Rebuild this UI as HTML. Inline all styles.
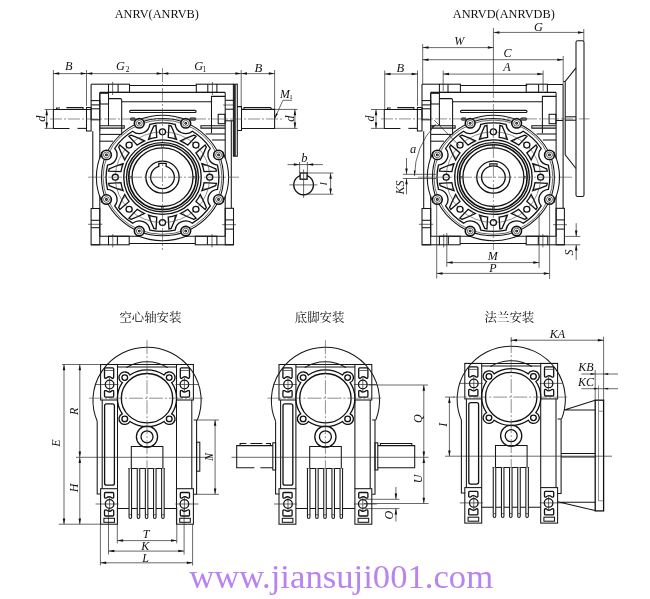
<!DOCTYPE html>
<html><head><meta charset="utf-8"><title>ANRV</title>
<style>
html,body{margin:0;padding:0;background:#fff}
svg{display:block;will-change:transform}
path,circle,rect{fill:none}
.k{stroke:#111;stroke-width:1.3}
.k2{stroke:#111;stroke-width:1.6}
.ks{stroke:#111;stroke-width:0.8;fill:#777}
.kb{stroke:#111;stroke-width:1.6;fill:#fff}
.kw{stroke:#111;stroke-width:1.3;fill:#fff}
.mw{stroke:#161616;stroke-width:1.05;fill:#fff}
.m{stroke:#161616;stroke-width:1.05}
.t{stroke:#2a2a2a;stroke-width:0.7}
.t2{stroke:#333;stroke-width:0.55}
.ah{fill:#111;stroke:none}
.c{stroke:#444;stroke-width:0.6}
text{font-family:"Liberation Serif","Noto Serif CJK SC",serif;fill:#111}
</style></head><body>
<svg width="650" height="599" viewBox="0 0 650 599">
<filter id="n" filterUnits="userSpaceOnUse" x="0" y="0" width="650" height="599"><feOffset dx="0" dy="0"/></filter>
<g filter="url(#n)">
<rect x="0" y="0" width="650" height="599" style="fill:#fff"/>
<g transform="translate(162.5 177.2)">
<path class="m" d="M-71.4 -93L-54 -93"/>
<path class="m" d="M-33 -91.7L33.8 -91.7"/>
<path class="m" d="M54.4 -93L70.9 -93"/>
<path class="m" d="M-71.4 -93L-71.4 -76.6"/>
<path class="m" d="M-69.7 -46L-69.7 31.3"/>
<path class="m" d="M-71.4 67.6L-54 67.6"/>
<path class="m" d="M-33.3 66.2L32.8 66.2"/>
<path class="m" d="M54.4 67.6L71 67.6"/>
<path class="m" d="M-62.7 -84.8L62.7 -84.8"/>
<path class="m" d="M-62.7 -84.8L-62.7 -18.5"/>
<path class="m" d="M-62.7 18.5L-62.7 59"/>
<path class="m" d="M-62.7 59L-22.5 59"/>
<path class="m" d="M22.5 59L62.7 59"/>
<rect class="m" x="-54" y="-93" width="21" height="8.2"/>
<path class="m" d="M-44.4 -93L-44.4 -84.8"/>
<path class="t" d="M-49.9 -95.2L-49.9 -82.2"/>
<rect class="m" x="33.8" y="-93" width="20.6" height="8.2"/>
<path class="m" d="M45.3 -93L45.3 -84.8"/>
<path class="t" d="M49.9 -95.2L49.9 -82.2"/>
<rect class="m" x="-54" y="59" width="20.7" height="8.6"/>
<path class="m" d="M-45.1 59L-45.1 67.6"/>
<path class="t" d="M-49.7 56.8L-49.7 70.2"/>
<rect class="m" x="32.8" y="59" width="21.6" height="8.6"/>
<path class="m" d="M44.9 59L44.9 67.6"/>
<path class="t" d="M49.5 56.8L49.5 70.2"/>
<rect class="m" x="-71.4" y="31.3" width="8.7" height="36.3"/>
<path class="m" d="M-71.4 43.1L-62.7 43.1"/>
<path class="m" d="M-71.4 50.5L-62.7 50.5"/>
<path class="t" d="M-74.4 47.1L-60.2 47.1"/>
<rect class="m" x="62.7" y="31.1" width="8.3" height="36.5"/>
<path class="m" d="M62.7 42.7L71 42.7"/>
<path class="m" d="M62.7 51.9L71 51.9"/>
<path class="t" d="M59.7 47.5L73.5 47.5"/>
<rect class="m" x="-62.7" y="-83.9" width="8.7" height="10.7"/>
<path class="m" d="M-54.0 -78.6H-42.3Q-40.8 -78.6 -40.8 -77.1V-42.8"/>
<path class="m" d="M-54 -73.2L-54 -51.4"/>
<path class="m" d="M-40.8 -75.4L49 -75.4"/>
<rect class="m" x="-71.4" y="-76.6" width="8.7" height="19.2"/>
<path class="m" d="M-71.4 -72.3L-62.7 -72.3"/>
<path class="m" d="M-71.4 -68.4L-62.7 -68.4"/>
<path class="t" d="M-62.7 -57.4L-62.7 -46"/>
<rect class="m" x="-32.9" y="-66.8" width="66.5" height="2.2" rx="1"/>
<rect class="ks" x="-32" y="-59.3" width="4.7" height="2.3" rx="0.6"/>
<rect class="ks" x="27.3" y="-59.3" width="5.9" height="2.3" rx="0.6"/>
<path class="m" d="M-62.7 -51.4H-38.2V-49.1H-62.7"/>
<path class="m" d="M-62.7 -42.8L-40.8 -42.8"/>
<path class="m" d="M-62.7 -36L-49.5 -36"/>
<path class="m" d="M62.7 -51.4H38.4V-49.1H62.7"/>
<path class="m" d="M43.2 -43.2L62.7 -43.2"/>
<path class="m" d="M49.4 -37.2L62.7 -37.2"/>
<path class="m" d="M49 -44V-80.8H62.7"/>
<path class="m" d="M62.7 -84.8L62.7 -18.5"/>
<path class="m" d="M62.7 18.5L62.7 59"/>
<rect class="m" x="55.7" y="-62.9" width="6.8" height="9.4"/>
<path class="m" d="M68.8 -56.4L68.8 31.1"/>
<rect class="m" x="70.9" y="-93" width="3.9" height="72"/>
<path class="k2" d="M72.4 -93L72.4 -21"/>
<path class="m" d="M62.7 -76.9L70.9 -76.9"/>
<path class="t" d="M60.7 -72.2L70.9 -72.2"/>
<path class="m" d="M62.7 -68L70.9 -68"/>
<path class="m" d="M62.7 -56.4L70.9 -56.4"/>
<path class="m" d="M-71.4 -67.7H-109.1V-48.8H-93"/>
<path class="m" d="M-85 -48.8H-76"/>
<path class="m" d="M-76 -69.7H-71.4V-46.2H-76Z"/>
<path class="m" d="M-105.9 -67.7V-69.2H-102.6M-96.1 -69.6H-79.5V-67.7"/>
<path class="m" d="M74.8 -70.6H79V-46.7H74.8"/>
<path class="m" d="M79 -67.8H112.1V-48.8H79"/>
<path class="m" d="M81.5 -67.8V-69.7H108.2L109 -67.8"/>
<g transform="scale(1.02 0.98)">
<path class="m" d="M59.24 25.76A64.6 64.6 0 0 0 59.24 -25.76"/>
<path class="m" d="M-59.24 -25.76A64.6 64.6 0 0 0 -59.24 25.76"/>
<path class="m" d="M-25.76 59.24A64.6 64.6 0 0 0 25.76 59.24"/>
<path class="m" d="M24.11 -58.2A63 63 0 0 0 -24.11 -58.2"/>
<circle class="m" cx="0" cy="0" r="59.8"/>
<circle class="t" cx="0" cy="0" r="58.3"/>
<path class="k" d="M53.89 -12.43A10.4 10.4 0 0 1 46.89 -29.32A55.3 55.3 0 0 0 29.32 -46.89A10.4 10.4 0 0 1 12.43 -53.89A55.3 55.3 0 0 0 -12.43 -53.89A10.4 10.4 0 0 1 -29.32 -46.89A55.3 55.3 0 0 0 -46.89 -29.32A10.4 10.4 0 0 1 -53.89 -12.43A55.3 55.3 0 0 0 -53.89 12.43A10.4 10.4 0 0 1 -46.89 29.32A55.3 55.3 0 0 0 -29.32 46.89A10.4 10.4 0 0 1 -12.43 53.89A55.3 55.3 0 0 0 12.43 53.89A10.4 10.4 0 0 1 29.32 46.89A55.3 55.3 0 0 0 46.89 29.32A10.4 10.4 0 0 1 53.89 12.43A55.3 55.3 0 0 0 53.89 -12.43Z"/>
<path class="k" d="M52.83 -6.3L40.71 -5.65A41 41 0 0 0 38.62 -13.75Q45.67 -11.46 52.2 -8.55Z"/>
<path class="t2" d="M39.5 -11.7L44.92 -12.04"/>
<path class="k" d="M52.83 6.3L40.71 5.65A41 41 0 0 1 38.62 13.75Q45.67 11.46 52.2 8.55Z"/>
<path class="t2" d="M39.5 11.7L44.92 12.04"/>
<path class="k" d="M32.9 -41.81L24.79 -32.78A41 41 0 0 0 17.59 -37.04Q24.19 -40.4 30.87 -42.96Z"/>
<path class="t2" d="M19.66 -36.21L23.25 -40.27"/>
<path class="k" d="M41.81 -32.9L32.78 -24.79A41 41 0 0 1 37.04 -17.59Q40.4 -24.19 42.96 -30.87Z"/>
<path class="t2" d="M36.21 -19.66L40.27 -23.25"/>
<path class="k" d="M-6.3 -52.83L-5.65 -40.71A41 41 0 0 0 -13.75 -38.62Q-11.46 -45.67 -8.55 -52.2Z"/>
<path class="t2" d="M-11.7 -39.5L-12.04 -44.92"/>
<path class="k" d="M6.3 -52.83L5.65 -40.71A41 41 0 0 1 13.75 -38.62Q11.46 -45.67 8.55 -52.2Z"/>
<path class="t2" d="M11.7 -39.5L12.04 -44.92"/>
<path class="k" d="M-41.81 -32.9L-32.78 -24.79A41 41 0 0 0 -37.04 -17.59Q-40.4 -24.19 -42.96 -30.87Z"/>
<path class="t2" d="M-36.21 -19.66L-40.27 -23.25"/>
<path class="k" d="M-32.9 -41.81L-24.79 -32.78A41 41 0 0 1 -17.59 -37.04Q-24.19 -40.4 -30.87 -42.96Z"/>
<path class="t2" d="M-19.66 -36.21L-23.25 -40.27"/>
<path class="k" d="M-52.83 6.3L-40.71 5.65A41 41 0 0 0 -38.62 13.75Q-45.67 11.46 -52.2 8.55Z"/>
<path class="t2" d="M-39.5 11.7L-44.92 12.04"/>
<path class="k" d="M-52.83 -6.3L-40.71 -5.65A41 41 0 0 1 -38.62 -13.75Q-45.67 -11.46 -52.2 -8.55Z"/>
<path class="t2" d="M-39.5 -11.7L-44.92 -12.04"/>
<path class="k" d="M-32.9 41.81L-24.79 32.78A41 41 0 0 0 -17.59 37.04Q-24.19 40.4 -30.87 42.96Z"/>
<path class="t2" d="M-19.66 36.21L-23.25 40.27"/>
<path class="k" d="M-41.81 32.9L-32.78 24.79A41 41 0 0 1 -37.04 17.59Q-40.4 24.19 -42.96 30.87Z"/>
<path class="t2" d="M-36.21 19.66L-40.27 23.25"/>
<path class="k" d="M6.3 52.83L5.65 40.71A41 41 0 0 0 13.75 38.62Q11.46 45.67 8.55 52.2Z"/>
<path class="t2" d="M11.7 39.5L12.04 44.92"/>
<path class="k" d="M-6.3 52.83L-5.65 40.71A41 41 0 0 1 -13.75 38.62Q-11.46 45.67 -8.55 52.2Z"/>
<path class="t2" d="M-11.7 39.5L-12.04 44.92"/>
<path class="k" d="M41.81 32.9L32.78 24.79A41 41 0 0 0 37.04 17.59Q40.4 24.19 42.96 30.87Z"/>
<path class="t2" d="M36.21 19.66L40.27 23.25"/>
<path class="k" d="M32.9 41.81L24.79 32.78A41 41 0 0 1 17.59 37.04Q24.19 40.4 30.87 42.96Z"/>
<path class="t2" d="M19.66 36.21L23.25 40.27"/>
<circle class="t2" cx="0" cy="0" r="46.3"/>
<circle class="kw" cx="46.3" cy="0" r="3"/>
<circle class="kw" cx="32.74" cy="-32.74" r="3"/>
<circle class="kw" cx="0" cy="-46.3" r="3"/>
<circle class="kw" cx="-32.74" cy="-32.74" r="3"/>
<circle class="kw" cx="-46.3" cy="0" r="3"/>
<circle class="kw" cx="-32.74" cy="32.74" r="3"/>
<circle class="kw" cx="0" cy="46.3" r="3"/>
<circle class="kw" cx="32.74" cy="32.74" r="3"/>
<circle class="kb" cx="54.97" cy="-22.77" r="4.8"/>
<circle class="t" cx="54.97" cy="-22.77" r="2.9"/>
<circle class="m" cx="54.97" cy="-22.77" r="0.9"/>
<circle class="kb" cx="22.77" cy="-54.97" r="4.8"/>
<circle class="t" cx="22.77" cy="-54.97" r="2.9"/>
<circle class="m" cx="22.77" cy="-54.97" r="0.9"/>
<circle class="kb" cx="-22.77" cy="-54.97" r="4.8"/>
<circle class="t" cx="-22.77" cy="-54.97" r="2.9"/>
<circle class="m" cx="-22.77" cy="-54.97" r="0.9"/>
<circle class="kb" cx="-54.97" cy="-22.77" r="4.8"/>
<circle class="t" cx="-54.97" cy="-22.77" r="2.9"/>
<circle class="m" cx="-54.97" cy="-22.77" r="0.9"/>
<circle class="kb" cx="-54.97" cy="22.77" r="4.8"/>
<circle class="t" cx="-54.97" cy="22.77" r="2.9"/>
<circle class="m" cx="-54.97" cy="22.77" r="0.9"/>
<circle class="kb" cx="-22.77" cy="54.97" r="4.8"/>
<circle class="t" cx="-22.77" cy="54.97" r="2.9"/>
<circle class="m" cx="-22.77" cy="54.97" r="0.9"/>
<circle class="kb" cx="22.77" cy="54.97" r="4.8"/>
<circle class="t" cx="22.77" cy="54.97" r="2.9"/>
<circle class="m" cx="22.77" cy="54.97" r="0.9"/>
<circle class="kb" cx="54.97" cy="22.77" r="4.8"/>
<circle class="t" cx="54.97" cy="22.77" r="2.9"/>
<circle class="m" cx="54.97" cy="22.77" r="0.9"/>
<circle class="k" cx="0" cy="0" r="38"/>
<circle class="k" cx="0" cy="0" r="35.3"/>
<circle class="k2" cx="0" cy="0" r="33.1"/>
<circle class="k" cx="0" cy="0" r="29.9"/>
<rect class="t2" x="30.6" y="-0.9" width="1.8" height="1.8"/>
<rect class="t2" x="-0.9" y="-32.4" width="1.8" height="1.8"/>
<rect class="t2" x="-32.4" y="-0.9" width="1.8" height="1.8"/>
<rect class="t2" x="-0.9" y="30.6" width="1.8" height="1.8"/>
<circle class="k" cx="0" cy="0" r="16.3"/>
<path class="k" d="M3.6 -11.03A11.6 11.6 0 1 1 -3.6 -11.03L-3.6 -14.0L3.6 -14.0Z"/>
</g>
</g>
<path class="c" d="M162.5 68L162.5 250" stroke-dasharray="14 2 2 2"/>
<path class="c" d="M88 177.2L239 177.2" stroke-dasharray="14 2 2 2"/>
<path class="c" d="M50 119L283.5 119" stroke-dasharray="12 2 2 2"/>
<path class="t" d="M53.4 70L53.4 109"/>
<path class="t" d="M86.5 70L86.5 106"/>
<path class="t" d="M241.2 70L241.2 106"/>
<path class="t" d="M274.6 70L274.6 109"/>
<path class="t" d="M53.4 73.6L86.5 73.6"/>
<path class="ah" d="M53.4 73.6L59.2 72.35L59.2 74.85Z"/>
<path class="ah" d="M86.5 73.6L80.7 74.85L80.7 72.35Z"/>
<path class="t" d="M86.5 73.6L162.5 73.6"/>
<path class="ah" d="M86.5 73.6L92.3 72.35L92.3 74.85Z"/>
<path class="ah" d="M162.5 73.6L156.7 74.85L156.7 72.35Z"/>
<path class="t" d="M162.5 73.6L241.2 73.6"/>
<path class="ah" d="M162.5 73.6L168.3 72.35L168.3 74.85Z"/>
<path class="ah" d="M241.2 73.6L235.4 74.85L235.4 72.35Z"/>
<path class="t" d="M241.2 73.6L274.6 73.6"/>
<path class="ah" d="M241.2 73.6L247 72.35L247 74.85Z"/>
<path class="ah" d="M274.6 73.6L268.8 74.85L268.8 72.35Z"/>
<text x="68.8" y="70.3" font-size="12.3" font-style="italic" text-anchor="middle">B</text>
<text x="120.5" y="69.8" font-size="12.3" font-style="italic" text-anchor="middle">G</text>
<text x="127.6" y="72.3" font-size="7.5" text-anchor="middle">2</text>
<text x="198.6" y="69.5" font-size="12.3" font-style="italic" text-anchor="middle">G</text>
<text x="204.4" y="71.5" font-size="7.5" text-anchor="middle">1</text>
<text x="258.4" y="71.5" font-size="12.8" font-style="italic" text-anchor="middle">B</text>
<path class="t" d="M44.6 109.5L53.4 109.5"/>
<path class="t" d="M44.6 128.4L53.4 128.4"/>
<path class="t" d="M46.7 109.5L46.7 128.4"/>
<path class="ah" d="M46.7 109.5L47.95 115.3L45.45 115.3Z"/>
<path class="ah" d="M46.7 128.4L45.45 122.6L47.95 122.6Z"/>
<text x="45.4" y="118.6" font-size="12.3" font-style="italic" text-anchor="middle" transform="rotate(-90 45.4 118.6)">d</text>
<path class="t" d="M274.6 109.4L297.5 109.4"/>
<path class="t" d="M274.6 128.4L297.5 128.4"/>
<path class="t" d="M294.9 109.4L294.9 128.4"/>
<path class="ah" d="M294.9 109.4L296.15 115.2L293.65 115.2Z"/>
<path class="ah" d="M294.9 128.4L293.65 122.6L296.15 122.6Z"/>
<text x="293.6" y="118.6" font-size="12.3" font-style="italic" text-anchor="middle" transform="rotate(-90 293.6 118.6)">d</text>
<path class="t" d="M292 100.3H282.9L274.9 118.2"/>
<path class="ah" d="M274.9 118.2L276.02 113.23L277.85 114.04Z"/>
<text x="284.8" y="98.4" font-size="11.8" font-style="italic" text-anchor="middle">M</text>
<text x="290.9" y="99.2" font-size="7" text-anchor="middle">1</text>
<path class="k" d="M307.1 175.69A9.85 9.85 0 1 1 300.1 175.69"/>
<rect class="k" x="300.1" y="173" width="7" height="6.2"/>
<path class="t" d="M289.4 184.9L317.4 184.9"/>
<path class="t" d="M303.6 169.5L303.6 197.8"/>
<path class="t" d="M299.6 162L299.6 173"/>
<path class="t" d="M307.4 162L307.4 173"/>
<path class="t" d="M287.5 164.6L322.9 164.6"/>
<path class="ah" d="M299.6 164.6L293.8 165.85L293.8 163.35Z"/>
<path class="ah" d="M307.4 164.6L313.2 163.35L313.2 165.85Z"/>
<path class="t" d="M307 173L333.4 173"/>
<path class="t" d="M305.7 194.2L333.4 194.2"/>
<path class="t" d="M330.6 173L330.6 194.2"/>
<path class="ah" d="M330.6 173L331.85 178.8L329.35 178.8Z"/>
<path class="ah" d="M330.6 194.2L329.35 188.4L331.85 188.4Z"/>
<text x="304.3" y="162" font-size="12.5" font-style="italic" text-anchor="middle">b</text>
<text x="327.3" y="183.8" font-size="11" font-style="italic" text-anchor="middle" transform="rotate(-90 327.3 183.8)">l</text>
<text x="156.8" y="18.1" font-size="12.3" text-anchor="middle">ANRV(ANRVB)</text>
<g transform="translate(493.4 177.2)">
<path class="m" d="M-71.4 -93L-54 -93"/>
<path class="m" d="M-33 -91.7L33.8 -91.7"/>
<path class="m" d="M54.2 -92.7L69.7 -92.7"/>
<path class="m" d="M-71.4 -93L-71.4 -76.6"/>
<path class="m" d="M-69.7 -46L-69.7 31.3"/>
<path class="m" d="M-71.4 67.6L-54 67.6"/>
<path class="m" d="M-33.3 66.2L32.8 66.2"/>
<path class="m" d="M54.4 67.6L71 67.6"/>
<path class="m" d="M-62.7 -84.8L62.7 -84.8"/>
<path class="m" d="M-62.7 -84.8L-62.7 -18.5"/>
<path class="m" d="M-62.7 18.5L-62.7 59"/>
<path class="m" d="M-62.7 59L-22.5 59"/>
<path class="m" d="M22.5 59L62.7 59"/>
<rect class="m" x="-54" y="-93" width="21" height="8.2"/>
<path class="m" d="M-45.4 -93L-45.4 -84.8"/>
<rect class="m" x="32.8" y="-93" width="21.2" height="8.2"/>
<path class="m" d="M45.2 -93L45.2 -84.8"/>
<rect class="m" x="-54" y="59" width="20.7" height="8.6"/>
<path class="m" d="M-45.1 59L-45.1 67.6"/>
<path class="t" d="M-49.7 56.8L-49.7 70.2"/>
<rect class="m" x="32.8" y="59" width="21.6" height="8.6"/>
<path class="m" d="M44.9 59L44.9 67.6"/>
<path class="t" d="M49.5 56.8L49.5 70.2"/>
<rect class="m" x="-71.4" y="31.3" width="8.7" height="36.3"/>
<path class="m" d="M-71.4 43.1L-62.7 43.1"/>
<path class="m" d="M-71.4 50.5L-62.7 50.5"/>
<path class="t" d="M-74.4 47.1L-60.2 47.1"/>
<rect class="m" x="62.7" y="31.1" width="8.3" height="36.5"/>
<path class="m" d="M62.7 42.7L71 42.7"/>
<path class="m" d="M62.7 51.9L71 51.9"/>
<path class="t" d="M59.7 47.5L73.5 47.5"/>
<rect class="m" x="-62.7" y="-83.9" width="8.7" height="10.7"/>
<path class="m" d="M-54.0 -78.6H-42.3Q-40.8 -78.6 -40.8 -77.1V-42.8"/>
<path class="m" d="M-54 -73.2L-54 -51.4"/>
<path class="m" d="M-40.8 -75.4L49 -75.4"/>
<rect class="m" x="-71.4" y="-76.6" width="8.7" height="19.2"/>
<path class="m" d="M-71.4 -72.3L-62.7 -72.3"/>
<path class="m" d="M-71.4 -68.4L-62.7 -68.4"/>
<path class="t" d="M-62.7 -57.4L-62.7 -46"/>
<rect class="m" x="-32.9" y="-66.8" width="66.5" height="2.2" rx="1"/>
<rect class="ks" x="-32" y="-59.3" width="4.7" height="2.3" rx="0.6"/>
<rect class="ks" x="27.3" y="-59.3" width="5.9" height="2.3" rx="0.6"/>
<path class="m" d="M-62.7 -51.4H-38.2V-49.1H-62.7"/>
<path class="m" d="M-62.7 -42.8L-40.8 -42.8"/>
<path class="m" d="M-62.7 -36L-49.5 -36"/>
<path class="m" d="M62.7 -51.4H38.4V-49.1H62.7"/>
<path class="m" d="M43.2 -43.2L62.7 -43.2"/>
<path class="m" d="M49.4 -37.2L62.7 -37.2"/>
<path class="m" d="M49 -44V-80.8H62.7"/>
<path class="m" d="M62.7 -84.8L62.7 -18.5"/>
<path class="m" d="M62.7 18.5L62.7 59"/>
<rect class="m" x="55.7" y="-62.9" width="6.8" height="9.4"/>
<path class="m" d="M69.7 -92.7L69.7 31.1"/>
<path class="m" d="M62.7 -56.7L69.7 -56.7"/>
<path class="m" d="M-71.4 -67.7H-109.1V-48.8H-93"/>
<path class="m" d="M-85 -48.8H-76"/>
<path class="m" d="M-76 -69.7H-71.4V-46.2H-76Z"/>
<path class="m" d="M-105.9 -67.7V-69.2H-102.6M-96.1 -69.6H-79.5V-67.7"/>
<g transform="scale(1.02 0.98)">
<path class="m" d="M59.24 25.76A64.6 64.6 0 0 0 59.24 -25.76"/>
<path class="m" d="M-59.24 -25.76A64.6 64.6 0 0 0 -59.24 25.76"/>
<path class="m" d="M-25.76 59.24A64.6 64.6 0 0 0 25.76 59.24"/>
<path class="m" d="M24.11 -58.2A63 63 0 0 0 -24.11 -58.2"/>
<circle class="m" cx="0" cy="0" r="59.8"/>
<circle class="t" cx="0" cy="0" r="58.3"/>
<path class="k" d="M53.89 -12.43A10.4 10.4 0 0 1 46.89 -29.32A55.3 55.3 0 0 0 29.32 -46.89A10.4 10.4 0 0 1 12.43 -53.89A55.3 55.3 0 0 0 -12.43 -53.89A10.4 10.4 0 0 1 -29.32 -46.89A55.3 55.3 0 0 0 -46.89 -29.32A10.4 10.4 0 0 1 -53.89 -12.43A55.3 55.3 0 0 0 -53.89 12.43A10.4 10.4 0 0 1 -46.89 29.32A55.3 55.3 0 0 0 -29.32 46.89A10.4 10.4 0 0 1 -12.43 53.89A55.3 55.3 0 0 0 12.43 53.89A10.4 10.4 0 0 1 29.32 46.89A55.3 55.3 0 0 0 46.89 29.32A10.4 10.4 0 0 1 53.89 12.43A55.3 55.3 0 0 0 53.89 -12.43Z"/>
<path class="k" d="M52.83 -6.3L40.71 -5.65A41 41 0 0 0 38.62 -13.75Q45.67 -11.46 52.2 -8.55Z"/>
<path class="t2" d="M39.5 -11.7L44.92 -12.04"/>
<path class="k" d="M52.83 6.3L40.71 5.65A41 41 0 0 1 38.62 13.75Q45.67 11.46 52.2 8.55Z"/>
<path class="t2" d="M39.5 11.7L44.92 12.04"/>
<path class="k" d="M32.9 -41.81L24.79 -32.78A41 41 0 0 0 17.59 -37.04Q24.19 -40.4 30.87 -42.96Z"/>
<path class="t2" d="M19.66 -36.21L23.25 -40.27"/>
<path class="k" d="M41.81 -32.9L32.78 -24.79A41 41 0 0 1 37.04 -17.59Q40.4 -24.19 42.96 -30.87Z"/>
<path class="t2" d="M36.21 -19.66L40.27 -23.25"/>
<path class="k" d="M-6.3 -52.83L-5.65 -40.71A41 41 0 0 0 -13.75 -38.62Q-11.46 -45.67 -8.55 -52.2Z"/>
<path class="t2" d="M-11.7 -39.5L-12.04 -44.92"/>
<path class="k" d="M6.3 -52.83L5.65 -40.71A41 41 0 0 1 13.75 -38.62Q11.46 -45.67 8.55 -52.2Z"/>
<path class="t2" d="M11.7 -39.5L12.04 -44.92"/>
<path class="k" d="M-41.81 -32.9L-32.78 -24.79A41 41 0 0 0 -37.04 -17.59Q-40.4 -24.19 -42.96 -30.87Z"/>
<path class="t2" d="M-36.21 -19.66L-40.27 -23.25"/>
<path class="k" d="M-32.9 -41.81L-24.79 -32.78A41 41 0 0 1 -17.59 -37.04Q-24.19 -40.4 -30.87 -42.96Z"/>
<path class="t2" d="M-19.66 -36.21L-23.25 -40.27"/>
<path class="k" d="M-52.83 6.3L-40.71 5.65A41 41 0 0 0 -38.62 13.75Q-45.67 11.46 -52.2 8.55Z"/>
<path class="t2" d="M-39.5 11.7L-44.92 12.04"/>
<path class="k" d="M-52.83 -6.3L-40.71 -5.65A41 41 0 0 1 -38.62 -13.75Q-45.67 -11.46 -52.2 -8.55Z"/>
<path class="t2" d="M-39.5 -11.7L-44.92 -12.04"/>
<path class="k" d="M-32.9 41.81L-24.79 32.78A41 41 0 0 0 -17.59 37.04Q-24.19 40.4 -30.87 42.96Z"/>
<path class="t2" d="M-19.66 36.21L-23.25 40.27"/>
<path class="k" d="M-41.81 32.9L-32.78 24.79A41 41 0 0 1 -37.04 17.59Q-40.4 24.19 -42.96 30.87Z"/>
<path class="t2" d="M-36.21 19.66L-40.27 23.25"/>
<path class="k" d="M6.3 52.83L5.65 40.71A41 41 0 0 0 13.75 38.62Q11.46 45.67 8.55 52.2Z"/>
<path class="t2" d="M11.7 39.5L12.04 44.92"/>
<path class="k" d="M-6.3 52.83L-5.65 40.71A41 41 0 0 1 -13.75 38.62Q-11.46 45.67 -8.55 52.2Z"/>
<path class="t2" d="M-11.7 39.5L-12.04 44.92"/>
<path class="k" d="M41.81 32.9L32.78 24.79A41 41 0 0 0 37.04 17.59Q40.4 24.19 42.96 30.87Z"/>
<path class="t2" d="M36.21 19.66L40.27 23.25"/>
<path class="k" d="M32.9 41.81L24.79 32.78A41 41 0 0 1 17.59 37.04Q24.19 40.4 30.87 42.96Z"/>
<path class="t2" d="M19.66 36.21L23.25 40.27"/>
<circle class="t2" cx="0" cy="0" r="46.3"/>
<circle class="kw" cx="46.3" cy="0" r="3"/>
<circle class="kw" cx="32.74" cy="-32.74" r="3"/>
<circle class="kw" cx="0" cy="-46.3" r="3"/>
<circle class="kw" cx="-32.74" cy="-32.74" r="3"/>
<circle class="kw" cx="-46.3" cy="0" r="3"/>
<circle class="kw" cx="-32.74" cy="32.74" r="3"/>
<circle class="kw" cx="0" cy="46.3" r="3"/>
<circle class="kw" cx="32.74" cy="32.74" r="3"/>
<circle class="kb" cx="54.97" cy="-22.77" r="4.8"/>
<circle class="t" cx="54.97" cy="-22.77" r="2.9"/>
<circle class="m" cx="54.97" cy="-22.77" r="0.9"/>
<circle class="kb" cx="22.77" cy="-54.97" r="4.8"/>
<circle class="t" cx="22.77" cy="-54.97" r="2.9"/>
<circle class="m" cx="22.77" cy="-54.97" r="0.9"/>
<circle class="kb" cx="-22.77" cy="-54.97" r="4.8"/>
<circle class="t" cx="-22.77" cy="-54.97" r="2.9"/>
<circle class="m" cx="-22.77" cy="-54.97" r="0.9"/>
<circle class="kb" cx="-54.97" cy="-22.77" r="4.8"/>
<circle class="t" cx="-54.97" cy="-22.77" r="2.9"/>
<circle class="m" cx="-54.97" cy="-22.77" r="0.9"/>
<circle class="kb" cx="-54.97" cy="22.77" r="4.8"/>
<circle class="t" cx="-54.97" cy="22.77" r="2.9"/>
<circle class="m" cx="-54.97" cy="22.77" r="0.9"/>
<circle class="kb" cx="-22.77" cy="54.97" r="4.8"/>
<circle class="t" cx="-22.77" cy="54.97" r="2.9"/>
<circle class="m" cx="-22.77" cy="54.97" r="0.9"/>
<circle class="kb" cx="22.77" cy="54.97" r="4.8"/>
<circle class="t" cx="22.77" cy="54.97" r="2.9"/>
<circle class="m" cx="22.77" cy="54.97" r="0.9"/>
<circle class="kb" cx="54.97" cy="22.77" r="4.8"/>
<circle class="t" cx="54.97" cy="22.77" r="2.9"/>
<circle class="m" cx="54.97" cy="22.77" r="0.9"/>
<circle class="k" cx="0" cy="0" r="38"/>
<circle class="k" cx="0" cy="0" r="35.3"/>
<circle class="k2" cx="0" cy="0" r="33.1"/>
<circle class="k" cx="0" cy="0" r="29.9"/>
<rect class="t2" x="30.6" y="-0.9" width="1.8" height="1.8"/>
<rect class="t2" x="-0.9" y="-32.4" width="1.8" height="1.8"/>
<rect class="t2" x="-32.4" y="-0.9" width="1.8" height="1.8"/>
<rect class="t2" x="-0.9" y="30.6" width="1.8" height="1.8"/>
<circle class="k" cx="0" cy="0" r="16.3"/>
<circle class="k" cx="0" cy="0" r="11.6"/>
<path class="m" d="M3.6 -11.03V-13.6H-3.6V-11.03"/>
</g>
</g>
<rect class="m" x="576" y="40.7" width="8" height="155.8" rx="1.6"/>
<path class="m" d="M563.3 81.5H565.2M576 67.8L565.2 81.5V154.7L576 168.5"/>
<path class="m" d="M565.2 116.8L576 116.8"/>
<path class="m" d="M565.2 120.2L576 120.2"/>
<path class="t" d="M493.4 28L493.4 84"/>
<path class="c" d="M493.4 84L493.4 250" stroke-dasharray="14 2 2 2"/>
<path class="c" d="M418 177.2L572 177.2" stroke-dasharray="14 2 2 2"/>
<path class="c" d="M381 118.9L589.5 118.9" stroke-dasharray="12 2 2 2"/>
<path class="t" d="M384.7 70.5L384.7 109"/>
<path class="t" d="M417.5 70.5L417.5 106"/>
<path class="t" d="M384.7 74L417.5 74"/>
<path class="ah" d="M384.7 74L390.5 72.75L390.5 75.25Z"/>
<path class="ah" d="M417.5 74L411.7 75.25L411.7 72.75Z"/>
<text x="400.2" y="72.2" font-size="12.5" font-style="italic" text-anchor="middle">B</text>
<path class="t" d="M422.7 44L422.7 84"/>
<path class="t" d="M422.7 47.6L493.6 47.6"/>
<path class="ah" d="M422.7 47.6L428.5 46.35L428.5 48.85Z"/>
<path class="ah" d="M493.6 47.6L487.8 48.85L487.8 46.35Z"/>
<text x="459.2" y="44.5" font-size="12" font-style="italic" text-anchor="middle">W</text>
<path class="t" d="M563.2 56L563.2 84"/>
<path class="t" d="M422.7 59.7L563.2 59.7"/>
<path class="ah" d="M422.7 59.7L428.5 58.45L428.5 60.95Z"/>
<path class="ah" d="M563.2 59.7L557.4 60.95L557.4 58.45Z"/>
<text x="507.5" y="56.7" font-size="12" font-style="italic" text-anchor="middle">C</text>
<path class="t" d="M443.2 70.5L443.2 91"/>
<path class="t" d="M543.1 70.5L543.1 91"/>
<path class="t" d="M443.2 74.1L543.1 74.1"/>
<path class="ah" d="M443.2 74.1L449 72.85L449 75.35Z"/>
<path class="ah" d="M543.1 74.1L537.3 75.35L537.3 72.85Z"/>
<text x="507" y="71.3" font-size="12" font-style="italic" text-anchor="middle">A</text>
<path class="t" d="M583.8 29L583.8 41"/>
<path class="t" d="M493.6 32.4L583.8 32.4"/>
<path class="ah" d="M493.6 32.4L499.4 31.15L499.4 33.65Z"/>
<path class="ah" d="M583.8 32.4L578 33.65L578 31.15Z"/>
<text x="538.5" y="30.8" font-size="12.3" font-style="italic" text-anchor="middle">G</text>
<path class="t" d="M371 109.5L384.7 109.5"/>
<path class="t" d="M371 128.4L384.7 128.4"/>
<path class="t" d="M376 109.5L376 128.4"/>
<path class="ah" d="M376 109.5L377.25 115.3L374.75 115.3Z"/>
<path class="ah" d="M376 128.4L374.75 122.6L377.25 122.6Z"/>
<text x="373.5" y="118.5" font-size="12" font-style="italic" text-anchor="middle" transform="rotate(-90 373.5 118.5)">d</text>
<path class="t" d="M459.2 145.6L434.2 120.1"/>
<path class="t" d="M414.5 176.2A79 77 0 0 1 435.5 124.5"/>
<path class="ah" d="M414.5 175.5L413.78 170.47L415.57 170.53Z"/>
<path class="ah" d="M435.8 124.2L432.55 128.1L431.39 126.72Z"/>
<text x="413.2" y="152.8" font-size="12.5" font-style="italic" text-anchor="middle">a</text>
<path class="t" d="M402.9 174.3L436 174.3"/>
<path class="t" d="M402.9 178.5L436 178.5"/>
<path class="t" d="M406.5 158L406.5 174.3"/>
<path class="ah" d="M406.5 174.3L405.25 168.5L407.75 168.5Z"/>
<path class="t" d="M406.5 178.5L406.5 194.4"/>
<path class="ah" d="M406.5 178.5L407.75 184.3L405.25 184.3Z"/>
<text x="404.5" y="187.6" font-size="12" font-style="italic" text-anchor="middle" transform="rotate(-90 404.5 187.6)">KS</text>
<path class="t" d="M446.8 233L446.8 266.8"/>
<path class="t" d="M539.1 213L539.1 267.8"/>
<path class="t" d="M446.8 262.6L539.1 262.6"/>
<path class="ah" d="M446.8 262.6L452.6 261.35L452.6 263.85Z"/>
<path class="ah" d="M539.1 262.6L533.3 263.85L533.3 261.35Z"/>
<text x="492.8" y="260.3" font-size="12" font-style="italic" text-anchor="middle">M</text>
<path class="t" d="M436.7 202.6L436.7 278.5"/>
<path class="t" d="M549.6 202L549.6 279"/>
<path class="t" d="M436.7 273.4L549.6 273.4"/>
<path class="ah" d="M436.7 273.4L442.5 272.15L442.5 274.65Z"/>
<path class="ah" d="M549.6 273.4L543.8 274.65L543.8 272.15Z"/>
<text x="492.8" y="271.6" font-size="12" font-style="italic" text-anchor="middle">P</text>
<path class="t" d="M564.3 236.4L580.3 236.4"/>
<path class="t" d="M564.3 244.8L580.3 244.8"/>
<path class="t" d="M576.2 223.2L576.2 236.4"/>
<path class="ah" d="M576.2 236.4L574.95 230.6L577.45 230.6Z"/>
<path class="t" d="M576.2 244.8L576.2 259.9"/>
<path class="ah" d="M576.2 244.8L577.45 250.6L574.95 250.6Z"/>
<text x="573.3" y="252.6" font-size="12" font-style="italic" text-anchor="middle" transform="rotate(-90 573.3 252.6)">S</text>
<text x="503.8" y="18.1" font-size="12.3" text-anchor="middle">ANRVD(ANRVDB)</text>
<g transform="translate(147 398.2)">
<path class="m" d="M-49.8 23A54.1 53.25 0 1 1 50.4 21.8"/>
<path class="m" d="M-49.8 23V95.8H-46"/>
<path class="m" d="M-46.4 -33.7L46.4 -33.7"/>
<path class="m" d="M-29.5 -31.2L29.5 -31.2"/>
<rect class="m" x="-46.4" y="-33.7" width="16.9" height="35.5"/>
<path class="k" d="M-42.5 -21.1V-29.3Q-42.5 -30.3 -41.5 -30.3H-34.3Q-33.3 -30.3 -33.3 -29.3V-21.1Q-33.3 -19.5 -35.1 -20.1Q-37.4 -22.7 -40.7 -20.1Q-42.5 -19.5 -42.5 -21.1Z"/>
<path class="k" d="M-42.5 -6.5V-2.1Q-42.5 -1.1 -41.5 -1.1H-34.3Q-33.3 -1.1 -33.3 -2.1V-6.5Q-33.3 -8.1 -35.1 -7.5Q-37.4 -4.9 -40.7 -7.5Q-42.5 -8.1 -42.5 -6.5Z"/>
<path class="t" d="M-41.9 -27.7L-33.9 -27.7"/>
<circle class="k" cx="-37.4" cy="-13.7" r="4.3"/>
<path class="t" d="M-51.4 -13.7L-28.4 -13.7"/>
<path class="t" d="M-37.4 -20.2L-37.4 -7.2"/>
<rect class="m" x="29.5" y="-33.7" width="16.9" height="35.5"/>
<path class="k" d="M33.3 -21.1V-29.3Q33.3 -30.3 34.3 -30.3H41.5Q42.5 -30.3 42.5 -29.3V-21.1Q42.5 -19.5 40.7 -20.1Q37.4 -22.7 35.1 -20.1Q33.3 -19.5 33.3 -21.1Z"/>
<path class="k" d="M33.3 -6.5V-2.1Q33.3 -1.1 34.3 -1.1H41.5Q42.5 -1.1 42.5 -2.1V-6.5Q42.5 -8.1 40.7 -7.5Q37.4 -4.9 35.1 -7.5Q33.3 -8.1 33.3 -6.5Z"/>
<path class="t" d="M33.9 -27.7L41.9 -27.7"/>
<circle class="k" cx="37.4" cy="-13.7" r="4.3"/>
<path class="t" d="M28.4 -13.7L51.4 -13.7"/>
<path class="t" d="M37.4 -20.2L37.4 -7.2"/>
<rect class="m" x="-46.4" y="90.5" width="16.9" height="35.5"/>
<path class="k" d="M-42.5 98.8V95.3Q-42.5 94.3 -41.5 94.3H-34.3Q-33.3 94.3 -33.3 95.3V98.8Q-33.3 100.4 -35.1 99.8Q-37.4 97.2 -40.7 99.8Q-42.5 100.4 -42.5 98.8Z"/>
<path class="k" d="M-42.5 112.8V116.8Q-42.5 117.8 -41.5 117.8H-34.3Q-33.3 117.8 -33.3 116.8V112.8Q-33.3 111.2 -35.1 111.8Q-37.4 114.4 -40.7 111.8Q-42.5 111.2 -42.5 112.8Z"/>
<rect class="m" x="-43.1" y="120.1" width="10.6" height="4"/>
<circle class="k" cx="-37.4" cy="105.8" r="4.3"/>
<path class="t" d="M-51.4 105.8L-28.4 105.8"/>
<path class="t" d="M-37.4 99.3L-37.4 112.3"/>
<rect class="m" x="29.5" y="90.5" width="16.9" height="35.5"/>
<path class="k" d="M33.3 98.8V95.3Q33.3 94.3 34.3 94.3H41.5Q42.5 94.3 42.5 95.3V98.8Q42.5 100.4 40.7 99.8Q37.4 97.2 35.1 99.8Q33.3 100.4 33.3 98.8Z"/>
<path class="k" d="M33.3 112.8V116.8Q33.3 117.8 34.3 117.8H41.5Q42.5 117.8 42.5 116.8V112.8Q42.5 111.2 40.7 111.8Q37.4 114.4 35.1 111.8Q33.3 111.2 33.3 112.8Z"/>
<rect class="m" x="32.7" y="120.1" width="10.6" height="4"/>
<circle class="k" cx="37.4" cy="105.8" r="4.3"/>
<path class="t" d="M28.4 105.8L51.4 105.8"/>
<path class="t" d="M37.4 99.3L37.4 112.3"/>
<path class="m" d="M-44.8 1.8L-44.8 90.5"/>
<path class="m" d="M-29.5 1.8L-29.5 90.5"/>
<path class="m" d="M44.8 1.8L44.8 90.5"/>
<path class="m" d="M29.5 1.8L29.5 90.5"/>
<rect class="k" x="-42.4" y="5.6" width="9.8" height="81.4" rx="2"/>
<g transform="scale(1.02 0.98)">
<path class="k" d="M24.23 -15.94A5.7 5.7 0 1 0 16.72 -23.69A29 29 0 0 0 -16.72 -23.69A5.7 5.7 0 1 0 -24.23 -15.94A29 29 0 0 0 -24.23 15.94A5.7 5.7 0 1 0 -16.72 23.69A29 29 0 0 0 16.72 23.69A5.7 5.7 0 1 0 24.23 15.94A29 29 0 0 0 24.23 -15.94Z"/>
<circle class="k" cx="0" cy="0" r="25.2"/>
<circle class="k" cx="21.8" cy="-21.1" r="2.8"/>
<circle class="k" cx="-21.8" cy="-21.1" r="2.8"/>
<circle class="k" cx="-21.8" cy="21.1" r="2.8"/>
<circle class="k" cx="21.8" cy="21.1" r="2.8"/>
<path class="m" d="M20.26 -31.2A37.2 37.2 0 0 0 -20.26 -31.2"/>
</g>
<circle class="k" cx="0" cy="38.6" r="10.6"/>
<circle class="k" cx="0" cy="38.6" r="6"/>
<path class="m" d="M-15.7 70.3V48.3H15.9V70.3"/>
<path class="m" d="M-18.6 70.3L17.8 70.3"/>
<path class="m" d="M-29.5 110.2L29.5 110.2"/>
<path class="mw" d="M-17.95 70.3V119.1Q-17.95 120.3 -16.7 120.3Q-15.45 120.3 -15.45 119.1V70.3"/>
<path class="t" d="M-17.95 116.5L-15.45 116.5"/>
<path class="mw" d="M-9.75 70.3V119.1Q-9.75 120.3 -8.5 120.3Q-7.25 120.3 -7.25 119.1V70.3"/>
<path class="t" d="M-9.75 116.5L-7.25 116.5"/>
<path class="mw" d="M-1.65 70.3V119.1Q-1.65 120.3 -0.4 120.3Q0.85 120.3 0.85 119.1V70.3"/>
<path class="t" d="M-1.65 116.5L0.85 116.5"/>
<path class="mw" d="M6.55 70.3V119.1Q6.55 120.3 7.8 120.3Q9.05 120.3 9.05 119.1V70.3"/>
<path class="t" d="M6.55 116.5L9.05 116.5"/>
<path class="mw" d="M14.65 70.3V119.1Q14.65 120.3 15.9 120.3Q17.15 120.3 17.15 119.1V70.3"/>
<path class="t" d="M14.65 116.5L17.15 116.5"/>
<path class="c" d="M0 -58L0 70" stroke-dasharray="14 2 2 2"/>
<path class="c" d="M-58 0L58 0" stroke-dasharray="14 2 2 2"/>
<path class="m" d="M50.4 21.8H49.6M46.7 21.8H49.6V96.1H46.7"/>
<rect class="m" x="49.6" y="44" width="3.2" height="29"/>
</g>
<path class="t" d="M76 457.3L213 457.3"/>
<path class="t" d="M62 364.5L100.6 364.5"/>
<path class="t" d="M58.8 524.2L100.6 524.2"/>
<path class="t" d="M64 364.5L64 524.2"/>
<path class="ah" d="M64 364.5L65.25 370.3L62.75 370.3Z"/>
<path class="ah" d="M64 524.2L62.75 518.4L65.25 518.4Z"/>
<path class="t" d="M79.8 364.5L79.8 457.3"/>
<path class="ah" d="M79.8 364.5L81.05 370.3L78.55 370.3Z"/>
<path class="ah" d="M79.8 457.3L78.55 451.5L81.05 451.5Z"/>
<path class="t" d="M79.8 457.3L79.8 524.2"/>
<path class="ah" d="M79.8 457.3L81.05 463.1L78.55 463.1Z"/>
<path class="ah" d="M79.8 524.2L78.55 518.4L81.05 518.4Z"/>
<text x="60.3" y="443" font-size="12" font-style="italic" text-anchor="middle" transform="rotate(-90 60.3 443)">E</text>
<text x="77.8" y="411.4" font-size="12" font-style="italic" text-anchor="middle" transform="rotate(-90 77.8 411.4)">R</text>
<text x="77.8" y="487.8" font-size="12" font-style="italic" text-anchor="middle" transform="rotate(-90 77.8 487.8)">H</text>
<path class="t" d="M117.3 507L117.3 543.4"/>
<path class="t" d="M176.8 507L176.8 543.4"/>
<path class="t" d="M117.3 540.6L176.8 540.6"/>
<path class="ah" d="M117.3 540.6L123.1 539.35L123.1 541.85Z"/>
<path class="ah" d="M176.8 540.6L171 541.85L171 539.35Z"/>
<path class="t" d="M108.5 509L108.5 554.5"/>
<path class="t" d="M184.1 509L184.1 554.5"/>
<path class="t" d="M108.5 551.1L184.1 551.1"/>
<path class="ah" d="M108.5 551.1L114.3 549.85L114.3 552.35Z"/>
<path class="ah" d="M184.1 551.1L178.3 552.35L178.3 549.85Z"/>
<path class="t" d="M100.4 524L100.4 565.5"/>
<path class="t" d="M192.6 524L192.6 565.5"/>
<path class="t" d="M100.4 562.8L192.6 562.8"/>
<path class="ah" d="M100.4 562.8L106.2 561.55L106.2 564.05Z"/>
<path class="ah" d="M192.6 562.8L186.8 564.05L186.8 561.55Z"/>
<text x="146" y="538.4" font-size="12" font-style="italic" text-anchor="middle">T</text>
<text x="145.3" y="550.2" font-size="12" font-style="italic" text-anchor="middle">K</text>
<text x="145.6" y="562" font-size="12" font-style="italic" text-anchor="middle">L</text>
<path class="t" d="M196.9 420L219 420"/>
<path class="t" d="M196.9 494.3L219 494.3"/>
<path class="t" d="M215.1 420L215.1 494.3"/>
<path class="ah" d="M215.1 420L216.35 425.8L213.85 425.8Z"/>
<path class="ah" d="M215.1 494.3L213.85 488.5L216.35 488.5Z"/>
<text x="213.5" y="456.9" font-size="12" font-style="italic" text-anchor="middle" transform="rotate(-90 213.5 456.9)">N</text>
<text x="150.4" y="321.8" font-size="12.4" text-anchor="middle">空心轴安装</text>
<g transform="translate(325.4 398.2)">
<path class="m" d="M-49.8 23A54.1 53.25 0 1 1 50.4 21.8"/>
<path class="m" d="M-49.8 23V95.8H-46"/>
<path class="m" d="M-46.4 -33.7L46.4 -33.7"/>
<path class="m" d="M-29.5 -31.2L29.5 -31.2"/>
<rect class="m" x="-46.4" y="-33.7" width="16.9" height="35.5"/>
<path class="k" d="M-42.5 -21.1V-29.3Q-42.5 -30.3 -41.5 -30.3H-34.3Q-33.3 -30.3 -33.3 -29.3V-21.1Q-33.3 -19.5 -35.1 -20.1Q-37.4 -22.7 -40.7 -20.1Q-42.5 -19.5 -42.5 -21.1Z"/>
<path class="k" d="M-42.5 -6.5V-2.1Q-42.5 -1.1 -41.5 -1.1H-34.3Q-33.3 -1.1 -33.3 -2.1V-6.5Q-33.3 -8.1 -35.1 -7.5Q-37.4 -4.9 -40.7 -7.5Q-42.5 -8.1 -42.5 -6.5Z"/>
<path class="t" d="M-41.9 -27.7L-33.9 -27.7"/>
<circle class="k" cx="-37.4" cy="-13.7" r="4.3"/>
<path class="t" d="M-51.4 -13.7L-28.4 -13.7"/>
<path class="t" d="M-37.4 -20.2L-37.4 -7.2"/>
<rect class="m" x="29.5" y="-33.7" width="16.9" height="35.5"/>
<path class="k" d="M33.3 -21.1V-29.3Q33.3 -30.3 34.3 -30.3H41.5Q42.5 -30.3 42.5 -29.3V-21.1Q42.5 -19.5 40.7 -20.1Q37.4 -22.7 35.1 -20.1Q33.3 -19.5 33.3 -21.1Z"/>
<path class="k" d="M33.3 -6.5V-2.1Q33.3 -1.1 34.3 -1.1H41.5Q42.5 -1.1 42.5 -2.1V-6.5Q42.5 -8.1 40.7 -7.5Q37.4 -4.9 35.1 -7.5Q33.3 -8.1 33.3 -6.5Z"/>
<path class="t" d="M33.9 -27.7L41.9 -27.7"/>
<circle class="k" cx="37.4" cy="-13.7" r="4.3"/>
<path class="t" d="M28.4 -13.7L51.4 -13.7"/>
<path class="t" d="M37.4 -20.2L37.4 -7.2"/>
<rect class="m" x="-46.4" y="90.5" width="16.9" height="35.5"/>
<path class="k" d="M-42.5 98.8V95.3Q-42.5 94.3 -41.5 94.3H-34.3Q-33.3 94.3 -33.3 95.3V98.8Q-33.3 100.4 -35.1 99.8Q-37.4 97.2 -40.7 99.8Q-42.5 100.4 -42.5 98.8Z"/>
<path class="k" d="M-42.5 112.8V116.8Q-42.5 117.8 -41.5 117.8H-34.3Q-33.3 117.8 -33.3 116.8V112.8Q-33.3 111.2 -35.1 111.8Q-37.4 114.4 -40.7 111.8Q-42.5 111.2 -42.5 112.8Z"/>
<rect class="m" x="-43.1" y="120.1" width="10.6" height="4"/>
<circle class="k" cx="-37.4" cy="105.8" r="4.3"/>
<path class="t" d="M-51.4 105.8L-28.4 105.8"/>
<path class="t" d="M-37.4 99.3L-37.4 112.3"/>
<rect class="m" x="29.5" y="90.5" width="16.9" height="35.5"/>
<path class="k" d="M33.3 98.8V95.3Q33.3 94.3 34.3 94.3H41.5Q42.5 94.3 42.5 95.3V98.8Q42.5 100.4 40.7 99.8Q37.4 97.2 35.1 99.8Q33.3 100.4 33.3 98.8Z"/>
<path class="k" d="M33.3 112.8V116.8Q33.3 117.8 34.3 117.8H41.5Q42.5 117.8 42.5 116.8V112.8Q42.5 111.2 40.7 111.8Q37.4 114.4 35.1 111.8Q33.3 111.2 33.3 112.8Z"/>
<rect class="m" x="32.7" y="120.1" width="10.6" height="4"/>
<circle class="k" cx="37.4" cy="105.8" r="4.3"/>
<path class="t" d="M28.4 105.8L51.4 105.8"/>
<path class="t" d="M37.4 99.3L37.4 112.3"/>
<path class="m" d="M-44.8 1.8L-44.8 90.5"/>
<path class="m" d="M-29.5 1.8L-29.5 90.5"/>
<path class="m" d="M44.8 1.8L44.8 90.5"/>
<path class="m" d="M29.5 1.8L29.5 90.5"/>
<rect class="k" x="-42.4" y="5.6" width="9.8" height="81.4" rx="2"/>
<g transform="scale(1.02 0.98)">
<path class="k" d="M24.23 -15.94A5.7 5.7 0 1 0 16.72 -23.69A29 29 0 0 0 -16.72 -23.69A5.7 5.7 0 1 0 -24.23 -15.94A29 29 0 0 0 -24.23 15.94A5.7 5.7 0 1 0 -16.72 23.69A29 29 0 0 0 16.72 23.69A5.7 5.7 0 1 0 24.23 15.94A29 29 0 0 0 24.23 -15.94Z"/>
<circle class="k" cx="0" cy="0" r="25.2"/>
<circle class="k" cx="21.8" cy="-21.1" r="2.8"/>
<circle class="k" cx="-21.8" cy="-21.1" r="2.8"/>
<circle class="k" cx="-21.8" cy="21.1" r="2.8"/>
<circle class="k" cx="21.8" cy="21.1" r="2.8"/>
<path class="m" d="M20.26 -31.2A37.2 37.2 0 0 0 -20.26 -31.2"/>
</g>
<circle class="k" cx="0" cy="38.6" r="10.6"/>
<circle class="k" cx="0" cy="38.6" r="6"/>
<path class="m" d="M-15.7 70.3V48.3H15.9V70.3"/>
<path class="m" d="M-18.6 70.3L17.8 70.3"/>
<path class="m" d="M-29.5 110.2L29.5 110.2"/>
<path class="mw" d="M-17.95 70.3V119.1Q-17.95 120.3 -16.7 120.3Q-15.45 120.3 -15.45 119.1V70.3"/>
<path class="t" d="M-17.95 116.5L-15.45 116.5"/>
<path class="mw" d="M-9.75 70.3V119.1Q-9.75 120.3 -8.5 120.3Q-7.25 120.3 -7.25 119.1V70.3"/>
<path class="t" d="M-9.75 116.5L-7.25 116.5"/>
<path class="mw" d="M-1.65 70.3V119.1Q-1.65 120.3 -0.4 120.3Q0.85 120.3 0.85 119.1V70.3"/>
<path class="t" d="M-1.65 116.5L0.85 116.5"/>
<path class="mw" d="M6.55 70.3V119.1Q6.55 120.3 7.8 120.3Q9.05 120.3 9.05 119.1V70.3"/>
<path class="t" d="M6.55 116.5L9.05 116.5"/>
<path class="mw" d="M14.65 70.3V119.1Q14.65 120.3 15.9 120.3Q17.15 120.3 17.15 119.1V70.3"/>
<path class="t" d="M14.65 116.5L17.15 116.5"/>
<path class="c" d="M0 -58L0 70" stroke-dasharray="14 2 2 2"/>
<path class="c" d="M-58 0L58 0" stroke-dasharray="14 2 2 2"/>
<path class="m" d="M50.4 21.8H49.6M46.7 21.8H49.6V96.1H46.7"/>
<rect class="m" x="49.6" y="44.6" width="2.8" height="27.2"/>
<path class="m" d="M52.4 47.4H89.3V69.6H52.4"/>
<path class="m" d="M55 47.4V45.2H86.4V47.4"/>
<rect class="m" x="-52.6" y="44.6" width="2.8" height="27.2"/>
<path class="m" d="M-52.6 47.4H-88.7V69.6H-71M-65 69.6H-52.6"/>
<path class="m" d="M-85.3 47.4V45.3H-79M-75 45.3H-63M-59.5 45.3H-55V47.4"/>
</g>
<path class="t" d="M231.5 457.3L428.6 457.3"/>
<path class="t" d="M368.6 385L428 385"/>
<path class="t" d="M364 503.5L428.6 503.5"/>
<path class="t" d="M423.8 385L423.8 457.3"/>
<path class="ah" d="M423.8 385L425.05 390.8L422.55 390.8Z"/>
<path class="ah" d="M423.8 457.3L422.55 451.5L425.05 451.5Z"/>
<path class="t" d="M423.8 457.3L423.8 503.5"/>
<path class="ah" d="M423.8 457.3L425.05 463.1L422.55 463.1Z"/>
<path class="ah" d="M423.8 503.5L422.55 497.7L425.05 497.7Z"/>
<text x="421.8" y="418.6" font-size="12" font-style="italic" text-anchor="middle" transform="rotate(-90 421.8 418.6)">Q</text>
<text x="421.8" y="479" font-size="12" font-style="italic" text-anchor="middle" transform="rotate(-90 421.8 479)">U</text>
<path class="t" d="M364.3 499.3L399.4 499.3"/>
<path class="t" d="M364.3 508.6L399.4 508.6"/>
<path class="t" d="M395.9 487L395.9 499.3"/>
<path class="ah" d="M395.9 499.3L394.65 493.5L397.15 493.5Z"/>
<path class="t" d="M395.9 508.6L395.9 521.5"/>
<path class="ah" d="M395.9 508.6L397.15 514.4L394.65 514.4Z"/>
<text x="393.3" y="515.2" font-size="12" font-style="italic" text-anchor="middle" transform="rotate(-90 393.3 515.2)">O</text>
<text x="319.6" y="321.8" font-size="12.4" text-anchor="middle">底脚安装</text>
<g transform="translate(511.2 397.1)">
<path class="m" d="M-49.8 23A54.1 53.25 0 1 1 50.4 21.8"/>
<path class="m" d="M-49.8 23V95.8H-46"/>
<path class="m" d="M-46.4 -33.7L46.4 -33.7"/>
<path class="m" d="M-29.5 -31.2L29.5 -31.2"/>
<rect class="m" x="-46.4" y="-33.7" width="16.9" height="35.5"/>
<path class="k" d="M-42.5 -21.1V-29.3Q-42.5 -30.3 -41.5 -30.3H-34.3Q-33.3 -30.3 -33.3 -29.3V-21.1Q-33.3 -19.5 -35.1 -20.1Q-37.4 -22.7 -40.7 -20.1Q-42.5 -19.5 -42.5 -21.1Z"/>
<path class="k" d="M-42.5 -6.5V-2.1Q-42.5 -1.1 -41.5 -1.1H-34.3Q-33.3 -1.1 -33.3 -2.1V-6.5Q-33.3 -8.1 -35.1 -7.5Q-37.4 -4.9 -40.7 -7.5Q-42.5 -8.1 -42.5 -6.5Z"/>
<path class="t" d="M-41.9 -27.7L-33.9 -27.7"/>
<circle class="k" cx="-37.4" cy="-13.7" r="4.3"/>
<path class="t" d="M-51.4 -13.7L-28.4 -13.7"/>
<path class="t" d="M-37.4 -20.2L-37.4 -7.2"/>
<rect class="m" x="29.5" y="-33.7" width="16.9" height="35.5"/>
<path class="k" d="M33.3 -21.1V-29.3Q33.3 -30.3 34.3 -30.3H41.5Q42.5 -30.3 42.5 -29.3V-21.1Q42.5 -19.5 40.7 -20.1Q37.4 -22.7 35.1 -20.1Q33.3 -19.5 33.3 -21.1Z"/>
<path class="k" d="M33.3 -6.5V-2.1Q33.3 -1.1 34.3 -1.1H41.5Q42.5 -1.1 42.5 -2.1V-6.5Q42.5 -8.1 40.7 -7.5Q37.4 -4.9 35.1 -7.5Q33.3 -8.1 33.3 -6.5Z"/>
<path class="t" d="M33.9 -27.7L41.9 -27.7"/>
<circle class="k" cx="37.4" cy="-13.7" r="4.3"/>
<path class="t" d="M28.4 -13.7L51.4 -13.7"/>
<path class="t" d="M37.4 -20.2L37.4 -7.2"/>
<rect class="m" x="-46.4" y="90.5" width="16.9" height="35.5"/>
<path class="k" d="M-42.5 98.8V95.3Q-42.5 94.3 -41.5 94.3H-34.3Q-33.3 94.3 -33.3 95.3V98.8Q-33.3 100.4 -35.1 99.8Q-37.4 97.2 -40.7 99.8Q-42.5 100.4 -42.5 98.8Z"/>
<path class="k" d="M-42.5 112.8V116.8Q-42.5 117.8 -41.5 117.8H-34.3Q-33.3 117.8 -33.3 116.8V112.8Q-33.3 111.2 -35.1 111.8Q-37.4 114.4 -40.7 111.8Q-42.5 111.2 -42.5 112.8Z"/>
<rect class="m" x="-43.1" y="120.1" width="10.6" height="4"/>
<circle class="k" cx="-37.4" cy="105.8" r="4.3"/>
<path class="t" d="M-51.4 105.8L-28.4 105.8"/>
<path class="t" d="M-37.4 99.3L-37.4 112.3"/>
<rect class="m" x="29.5" y="90.5" width="16.9" height="35.5"/>
<path class="k" d="M33.3 98.8V95.3Q33.3 94.3 34.3 94.3H41.5Q42.5 94.3 42.5 95.3V98.8Q42.5 100.4 40.7 99.8Q37.4 97.2 35.1 99.8Q33.3 100.4 33.3 98.8Z"/>
<path class="k" d="M33.3 112.8V116.8Q33.3 117.8 34.3 117.8H41.5Q42.5 117.8 42.5 116.8V112.8Q42.5 111.2 40.7 111.8Q37.4 114.4 35.1 111.8Q33.3 111.2 33.3 112.8Z"/>
<rect class="m" x="32.7" y="120.1" width="10.6" height="4"/>
<circle class="k" cx="37.4" cy="105.8" r="4.3"/>
<path class="t" d="M28.4 105.8L51.4 105.8"/>
<path class="t" d="M37.4 99.3L37.4 112.3"/>
<path class="m" d="M-44.8 1.8L-44.8 90.5"/>
<path class="m" d="M-29.5 1.8L-29.5 90.5"/>
<path class="m" d="M44.8 1.8L44.8 90.5"/>
<path class="m" d="M29.5 1.8L29.5 90.5"/>
<rect class="k" x="-42.4" y="5.6" width="9.8" height="81.4" rx="2"/>
<g transform="scale(1.02 0.98)">
<path class="k" d="M24.23 -15.94A5.7 5.7 0 1 0 16.72 -23.69A29 29 0 0 0 -16.72 -23.69A5.7 5.7 0 1 0 -24.23 -15.94A29 29 0 0 0 -24.23 15.94A5.7 5.7 0 1 0 -16.72 23.69A29 29 0 0 0 16.72 23.69A5.7 5.7 0 1 0 24.23 15.94A29 29 0 0 0 24.23 -15.94Z"/>
<circle class="k" cx="0" cy="0" r="25.2"/>
<circle class="k" cx="21.8" cy="-21.1" r="2.8"/>
<circle class="k" cx="-21.8" cy="-21.1" r="2.8"/>
<circle class="k" cx="-21.8" cy="21.1" r="2.8"/>
<circle class="k" cx="21.8" cy="21.1" r="2.8"/>
<path class="m" d="M20.26 -31.2A37.2 37.2 0 0 0 -20.26 -31.2"/>
</g>
<circle class="k" cx="0" cy="38.6" r="10.6"/>
<circle class="k" cx="0" cy="38.6" r="6"/>
<path class="m" d="M-15.7 70.3V48.3H15.9V70.3"/>
<path class="m" d="M-18.6 70.3L17.8 70.3"/>
<path class="m" d="M-29.5 110.2L29.5 110.2"/>
<path class="mw" d="M-17.95 70.3V119.1Q-17.95 120.3 -16.7 120.3Q-15.45 120.3 -15.45 119.1V70.3"/>
<path class="t" d="M-17.95 116.5L-15.45 116.5"/>
<path class="mw" d="M-9.75 70.3V119.1Q-9.75 120.3 -8.5 120.3Q-7.25 120.3 -7.25 119.1V70.3"/>
<path class="t" d="M-9.75 116.5L-7.25 116.5"/>
<path class="mw" d="M-1.65 70.3V119.1Q-1.65 120.3 -0.4 120.3Q0.85 120.3 0.85 119.1V70.3"/>
<path class="t" d="M-1.65 116.5L0.85 116.5"/>
<path class="mw" d="M6.55 70.3V119.1Q6.55 120.3 7.8 120.3Q9.05 120.3 9.05 119.1V70.3"/>
<path class="t" d="M6.55 116.5L9.05 116.5"/>
<path class="mw" d="M14.65 70.3V119.1Q14.65 120.3 15.9 120.3Q17.15 120.3 17.15 119.1V70.3"/>
<path class="t" d="M14.65 116.5L17.15 116.5"/>
<path class="c" d="M0 -58L0 70" stroke-dasharray="14 2 2 2"/>
<path class="c" d="M-58 0L58 0" stroke-dasharray="14 2 2 2"/>
<path class="m" d="M50.4 21.8H46.4M49.9 21.8V96.3H46.4"/>
<path class="m" d="M53.1 12.8H84M53.1 12.8L84 3.1"/>
<path class="m" d="M46.6 105.1H84M46.6 104.6L84 113.5"/>
<rect class="k" x="84" y="3.1" width="8.4" height="110.7"/>
<path class="c" d="M92.4 14.1H87.3V103.7H92.4"/>
<path class="m" d="M49.9 56.4L84 56.4"/>
<path class="m" d="M49.9 59.8L84 59.8"/>
</g>
<path class="t" d="M445 456.2L612 456.2"/>
<path class="t" d="M445 397.1L455 397.1"/>
<path class="t" d="M449.4 397.1L449.4 456.2"/>
<path class="ah" d="M449.4 397.1L450.65 402.9L448.15 402.9Z"/>
<path class="ah" d="M449.4 456.2L448.15 450.4L450.65 450.4Z"/>
<text x="447.4" y="424.8" font-size="12" font-style="italic" text-anchor="middle" transform="rotate(-90 447.4 424.8)">I</text>
<path class="t" d="M511.2 337L511.2 342"/>
<path class="t" d="M603.6 336.7L603.6 400.3"/>
<path class="t" d="M511.2 340.2L603.6 340.2"/>
<path class="ah" d="M511.2 340.2L517 338.95L517 341.45Z"/>
<path class="ah" d="M603.6 340.2L597.8 341.45L597.8 338.95Z"/>
<text x="557.5" y="337.6" font-size="12" font-style="italic" text-anchor="middle">KA</text>
<path class="t" d="M595.2 370L595.2 400.3"/>
<path class="t" d="M581.4 374L618 374"/>
<path class="ah" d="M595.2 374L590.6 374.9L590.6 373.1Z"/>
<path class="ah" d="M603.6 374L608.2 373.1L608.2 374.9Z"/>
<path class="c" d="M598.5 385.5L598.5 411"/>
<path class="t" d="M581.4 388.7L618 388.7"/>
<path class="ah" d="M598.5 388.7L593.9 389.6L593.9 387.8Z"/>
<path class="ah" d="M603.6 388.7L608.2 387.8L608.2 389.6Z"/>
<text x="586" y="370.7" font-size="12" font-style="italic" text-anchor="middle">KB</text>
<text x="586" y="386.3" font-size="12" font-style="italic" text-anchor="middle">KC</text>
<text x="509.4" y="321.8" font-size="12.4" text-anchor="middle">法兰安装</text>
<text x="341.2" y="588" font-size="34" text-anchor="middle" style="fill:#b884f0" textLength="304" lengthAdjust="spacingAndGlyphs">www.jiansuji001.com</text>
</g>
</svg>
</body></html>
